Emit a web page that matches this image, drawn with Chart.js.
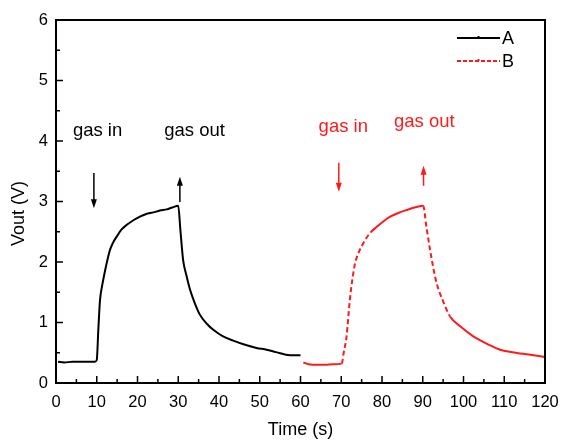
<!DOCTYPE html>
<html>
<head>
<meta charset="utf-8">
<script src="https://cdn.jsdelivr.net/npm/chart.js@4.4.1/dist/chart.umd.min.js"></script>
<style>
    html, body { margin: 0; padding: 0; background: #fff; }
    #wrap { width: 564px; height: 441px; }
</style>
</head>
<body>
<div id="wrap"><canvas id="chart" width="564" height="441"></canvas></div>
<script>
// Response curves (time in s, output in V)
const timeA = [0.5, 2, 4, 6, 8, 9.5, 10, 10.4, 10.8, 11.3, 11.9, 12.5, 13.25, 14, 14.9, 16, 17.3, 19, 20.6, 22, 23.9, 25.5, 27.2, 28.5, 30,
    30.5, 31.2, 32, 32.9, 34, 35.3, 37, 38.6, 41, 43.5, 46, 49.2, 51.7, 54, 57.4, 60];
const voutA = [0.35, 0.34, 0.35, 0.35, 0.35, 0.35, 0.38, 0.9, 1.37, 1.6, 1.81, 2.0, 2.2, 2.32, 2.42, 2.53, 2.61, 2.69, 2.75, 2.79, 2.82, 2.85, 2.87, 2.9, 2.93,
    2.55, 2.03, 1.78, 1.54, 1.33, 1.13, 0.98, 0.88, 0.77, 0.70, 0.64, 0.58, 0.55, 0.51, 0.46, 0.46];

const timeB = [60.7, 62, 64, 66, 68, 70.1, 70.6, 71.3, 72.1, 72.7, 73.4, 74.3, 75.4, 76.3, 77.2, 78.7, 80.3, 82, 84, 86.1, 88, 90.1,
    90.9, 91.8, 92.6, 93.4, 95, 96.7, 99.5, 102.4, 104, 106, 109, 112, 116, 120];
const voutB = [0.34, 0.31, 0.30, 0.30, 0.31, 0.32, 0.5, 0.77, 1.37, 1.7, 1.98, 2.16, 2.31, 2.41, 2.49, 2.58, 2.67, 2.75, 2.81, 2.86, 2.9, 2.93,
    2.58, 2.2, 1.9, 1.65, 1.35, 1.10, 0.92, 0.77, 0.71, 0.64, 0.55, 0.51, 0.47, 0.43];

const seriesLabels = ['A', 'B'];
const xTickValues = [0, 10, 20, 30, 40, 50, 60, 70, 80, 90, 100, 110, 120];
const yTickValues = [0, 1, 2, 3, 4, 5, 6];

// "gas in" / "gas out" notes and their arrows, in data units
const noteText = ['gas in', 'gas out', 'gas in', 'gas out'];
const noteTime = [10.2, 34.0, 70.5, 90.4];
const noteVolt = [4.09, 4.09, 4.15, 4.23];
const arrowTime = [9.3, 30.4, 69.4, 90.2];
const arrowFrom = [3.47, 2.99, 3.64, 3.26];
const arrowTo = [2.89, 3.41, 3.16, 3.59];

const BLACK = '#000000';
const RED = '#ff1a1a';
const noteColors = [BLACK, BLACK, RED, RED];
const FONT = "'Liberation Sans', Arial, sans-serif";

Chart.defaults.font.family = FONT;
Chart.defaults.color = '#000';

function toPoints(xs, ys) {
    return xs.map((x, i) => ({ x: x, y: ys[i] }));
}

// steep parts of curve B are drawn dashed, flat parts look solid
function steepDash(ctx) {
    const dx = Math.abs(ctx.p1.x - ctx.p0.x);
    const dy = Math.abs(ctx.p1.y - ctx.p0.y);
    return dy > 1.0 * dx ? [5, 3] : [];
}

function drawArrow(ctx, x, y0, y1, color) {
    const dir = y1 > y0 ? 1 : -1;
    ctx.save();
    ctx.strokeStyle = color;
    ctx.fillStyle = color;
    ctx.lineWidth = 1.5;
    ctx.beginPath();
    ctx.moveTo(x, y0);
    ctx.lineTo(x, y1 - dir * 6);
    ctx.stroke();
    ctx.beginPath();
    ctx.moveTo(x, y1);
    ctx.lineTo(x - 3, y1 - dir * 9);
    ctx.lineTo(x + 3, y1 - dir * 9);
    ctx.closePath();
    ctx.fill();
    ctx.restore();
}

// Frame, inward ticks, notes, y title and legend
const decorPlugin = {
    id: 'decor',
    afterDatasetsDraw(chart) {
        const ctx = chart.ctx;
        const area = chart.chartArea;
        const xs = chart.scales.x;
        const ys = chart.scales.y;

        ctx.save();
        ctx.strokeStyle = BLACK;
        ctx.lineWidth = 2;
        ctx.strokeRect(area.left, area.top, area.right - area.left, area.bottom - area.top);

        // ticks pointing into the plot
        ctx.lineWidth = 1.5;
        ctx.beginPath();
        for (let i = 0; i < xTickValues.length; i++) {
            const px = xs.getPixelForValue(xTickValues[i]);
            ctx.moveTo(px, area.bottom);
            ctx.lineTo(px, area.bottom - 7);
            if (i < xTickValues.length - 1) {
                const mx = xs.getPixelForValue((xTickValues[i] + xTickValues[i + 1]) / 2);
                ctx.moveTo(mx, area.bottom);
                ctx.lineTo(mx, area.bottom - 4);
            }
        }
        for (let i = 0; i < yTickValues.length; i++) {
            const py = ys.getPixelForValue(yTickValues[i]);
            ctx.moveTo(area.left, py);
            ctx.lineTo(area.left + 7, py);
            if (i < yTickValues.length - 1) {
                const my = ys.getPixelForValue((yTickValues[i] + yTickValues[i + 1]) / 2);
                ctx.moveTo(area.left, my);
                ctx.lineTo(area.left + 4, my);
            }
        }
        ctx.stroke();

        // y axis title, sits a little below the middle of the axis
        ctx.save();
        ctx.translate(19, (area.top + area.bottom) / 2 + 12);
        ctx.rotate(-Math.PI / 2);
        ctx.font = '18px ' + FONT;
        ctx.fillStyle = BLACK;
        ctx.textAlign = 'center';
        ctx.textBaseline = 'middle';
        ctx.fillText('Vout (V)', 0, 0);
        ctx.restore();

        // notes
        ctx.font = '18.5px ' + FONT;
        ctx.textAlign = 'center';
        ctx.textBaseline = 'alphabetic';
        noteText.forEach((t, i) => {
            ctx.fillStyle = noteColors[i];
            ctx.fillText(t, xs.getPixelForValue(noteTime[i]), ys.getPixelForValue(noteVolt[i]));
        });
        arrowTime.forEach((t, i) => {
            drawArrow(ctx, xs.getPixelForValue(t), ys.getPixelForValue(arrowFrom[i]),
                ys.getPixelForValue(arrowTo[i]), noteColors[i]);
        });

        // legend, top right inside the frame
        ctx.font = '18px ' + FONT;
        ctx.textAlign = 'left';
        ctx.textBaseline = 'middle';
        chart.data.datasets.forEach((ds, i) => {
            const y = area.top + 18 + i * 23;
            const x0 = area.right - 88;
            const x1 = area.right - 45;
            ctx.strokeStyle = ds.borderColor;
            ctx.lineWidth = 2;
            ctx.setLineDash(i === 1 ? [4, 2] : []);
            ctx.beginPath();
            ctx.moveTo(x0, y);
            ctx.lineTo(x1, y);
            ctx.stroke();
            ctx.setLineDash([]);
            ctx.fillStyle = ds.borderColor;
            ctx.fillRect((x0 + x1) / 2 - 1, y - 2, 2, 2);
            ctx.fillStyle = BLACK;
            ctx.fillText(ds.label, x1 + 2, y + 1);
        });
        ctx.restore();
    }
};

const chart = new Chart(document.getElementById('chart').getContext('2d'), {
    type: 'line',
    data: {
        datasets: [
            {
                label: seriesLabels[0],
                data: toPoints(timeA, voutA),
                borderColor: BLACK,
                borderWidth: 2,
                pointRadius: 0,
                cubicInterpolationMode: 'monotone'
            },
            {
                label: seriesLabels[1],
                data: toPoints(timeB, voutB),
                borderColor: RED,
                borderWidth: 2,
                pointRadius: 0,
                cubicInterpolationMode: 'monotone',
                segment: { borderDash: steepDash }
            }
        ]
    },
    options: {
        responsive: false,
        animation: false,
        layout: { padding: { top: 20, right: 19, left: 0, bottom: 0 } },
        plugins: {
            legend: { display: false },
            tooltip: { enabled: false }
        },
        scales: {
            x: {
                type: 'linear',
                min: 0,
                max: 120,
                afterBuildTicks: s => { s.ticks = xTickValues.map(v => ({ value: v })); },
                afterFit: s => { s.height = 58; s.paddingLeft = 0; s.paddingRight = 0; },
                grid: { display: false, drawTicks: false },
                border: { display: false },
                ticks: { padding: 10, maxRotation: 0, autoSkip: false, font: { size: 16.5 }, color: '#000' },
                title: { display: true, text: 'Time (s)', font: { size: 18 }, color: '#000', padding: { top: 0, bottom: 0 } }
            },
            y: {
                type: 'linear',
                min: 0,
                max: 6,
                afterBuildTicks: s => { s.ticks = yTickValues.map(v => ({ value: v })); },
                afterFit: s => { s.width = 56; s.paddingTop = 0; s.paddingBottom = 0; },
                grid: { display: false, drawTicks: false },
                border: { display: false },
                ticks: { padding: 8, font: { size: 16.5 }, color: '#000' },
                title: { display: false }
            }
        }
    },
    plugins: [decorPlugin]
});
</script>
</body>
</html>
